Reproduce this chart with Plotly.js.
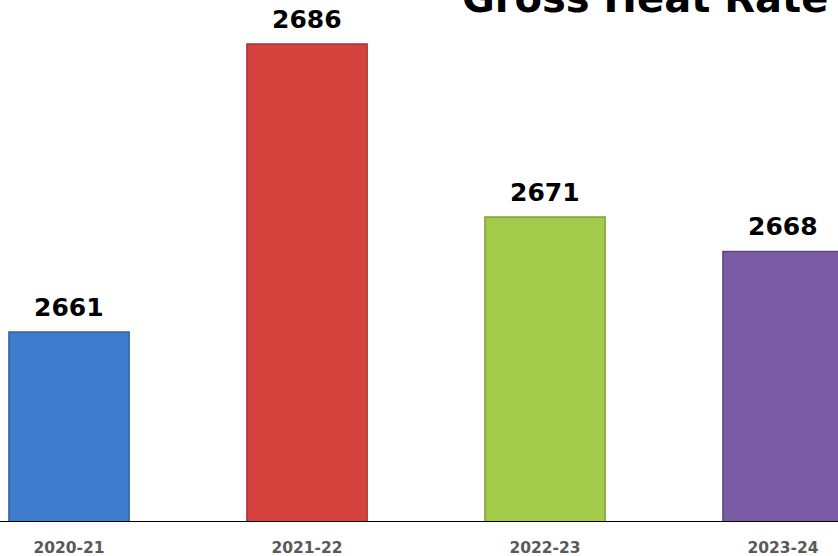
<!DOCTYPE html>
<html>
<head>
<meta charset="utf-8">
<script src="https://cdn.plot.ly/plotly-3.0.1.min.js"></script>
<style>html,body{margin:0;padding:0;background:#fff;}#chart{width:838px;height:556px;}</style>
</head>
<body>
<div id="chart"></div>
<script>
const categories = ["2020-21", "2021-22", "2022-23", "2023-24"];
const heatRate = [2661, 2686, 2671, 2668];
const barColors = ["#3d7ccc", "#d6433f", "#a2cb4b", "#7b5aa6"];
const edgeColors = ["#2f62a3", "#a83330", "#7f9f39", "#5e4482"];
const chartTitle = "Gross Heat Rate";

const trace = {
  type: "bar",
  x: categories,
  y: heatRate,
  width: 0.505,
  marker: { color: barColors, line: { color: edgeColors, width: 1.5 } },
  hoverinfo: "x+y"
};

const annotations = categories.map((c, i) => ({
  x: c, y: heatRate[i], xref: "x", yref: "y",
  text: String(heatRate[i]), showarrow: false,
  yanchor: "bottom", yshift: 8,
  font: { family: "DejaVu Sans", size: 25, color: "#000", weight: "bold" }
}));
annotations.push({
  xref: "paper", yref: "paper", x: 0.549, y: 0.955,
  xanchor: "left", yanchor: "bottom",
  text: chartTitle, showarrow: false,
  font: { family: "DejaVu Sans", size: 40, color: "#000", weight: "bold" }
});

const layout = {
  width: 838, height: 556,
  margin: { l: 0, r: 0, t: 0, b: 35 },
  paper_bgcolor: "#fff", plot_bgcolor: "#fff",
  showlegend: false,
  xaxis: {
    type: "category",
    range: [-0.29, 3.231],
    showline: true, linecolor: "#000", linewidth: 1,
    showgrid: false, zeroline: false, ticks: "",
    ticklabelstandoff: 12,
    tickfont: { family: "DejaVu Sans", size: 15.5, color: "#595959", weight: "bold" }
  },
  yaxis: {
    range: [2644.6, 2689.83],
    visible: false, showgrid: false, zeroline: false
  },
  annotations: annotations
};

Plotly.newPlot("chart", [trace], layout, { displayModeBar: false, staticPlot: true });
</script>
</body>
</html>
